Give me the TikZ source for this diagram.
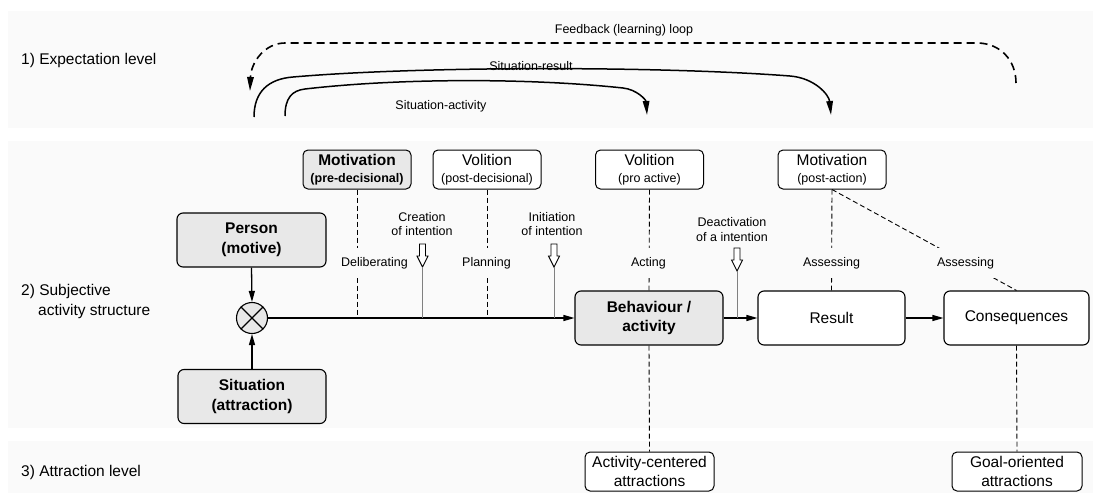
\documentclass[tikz,border=0pt]{standalone}
\usepackage{fontspec}
\setmainfont{Liberation Sans}
\usetikzlibrary{arrows.meta}
\definecolor{bandgray}{HTML}{FAFAFA}
\definecolor{boxgray}{HTML}{E8E8E8}
\definecolor{guide}{HTML}{808080}
\newcommand\fbig{\fontsize{15.5}{19.5}\selectfont}
\newcommand\fsmall{\fontsize{12.5}{14.5}\selectfont}
\newcommand\ftitle{\fontsize{15.5}{16.5}\selectfont}
\newcommand\fsub{\fontsize{12.5}{16.5}\selectfont}

\tikzset{
  band/.style={fill=bandgray, draw=none},
  levellabel/.style={anchor=west, inner sep=0pt, align=left, font=\fbig},
  bigbox/.style={draw, line width=1.1pt, rounded corners=6pt, align=center, inner sep=0pt, minimum height=54pt, font=\fbig},
  greybox/.style={bigbox, fill=boxgray, font=\fbig\bfseries},
  whitebox/.style={bigbox, fill=white},
  phasebox/.style={draw, line width=1pt, rounded corners=5pt, align=center, inner sep=0pt, minimum width=108pt, minimum height=39pt, fill=white, font=\fsub},
  attrbox/.style={draw, line width=1pt, rounded corners=5pt, align=center, inner sep=0pt, minimum height=39pt, fill=white, font=\fbig},
  dline/.style={line width=0.9pt, dash pattern=on 5pt off 3pt},
  phaselabel/.style={fill=bandgray, inner xsep=2pt, inner ysep=9pt, font=\fsmall},
  eventlabel/.style={align=center, inner sep=0pt, font=\fsmall},
  flow/.style={line width=1.3pt, -{Triangle[length=11pt,width=6pt]}},
  guideline/.style={draw=guide, line width=0.8pt},
  loopline/.style={line width=1.5pt, -{Triangle[length=14pt,width=6.5pt]}},
  feedback/.style={line width=1.6pt, dash pattern=on 8pt off 5pt, -{Triangle[length=14pt,width=6.5pt]}},
  curvelabel/.style={inner sep=0pt, font=\fsmall},
  intentarrow/.pic={
    \draw[line width=0.9pt, fill=white] (-3,0) -- (3,0) -- (3,12) -- (5.5,12) -- (0,23) -- (-5.5,12) -- (-3,12) -- cycle;
    \coordinate (-tip) at (0,23);
  },
}

\begin{document}
\begin{tikzpicture}[x=1pt, y=-1pt]
\useasboundingbox (0,0) rectangle (1093,493);
\fill[white] (0,0) rectangle (1093,493);

% the three level bands
\path[band] (8,11) rectangle (1093,128);
\path[band] (8,141) rectangle (1093,428);
\path[band] (8,441) rectangle (1093,493);

\node[levellabel] (lev1) at (21,60) {1) Expectation level};
\node[levellabel] (lev2) at (21,301.5) {2) Subjective\\\hspace*{17pt}activity structure};
\node[levellabel] (lev3) at (21,472) {3) Attraction level};

% expectation level: loops
\coordinate (fbstart) at (1016,83);
\coordinate (fbend) at (250,91);
\draw[feedback] (fbstart) .. controls (1016,60) and (1000,43) .. (977,43) -- (285,43) .. controls (265,43) and (251,62) .. (fbend);
\node[curvelabel] (fblabel) at (624,30) {Feedback (learning) loop};

\coordinate (srstart) at (254,117);
\coordinate (srend) at (831,115);
\draw[loopline] (srstart) .. controls (254,92) and (268,79) .. (293,77) .. controls (420,66) and (660,66) .. (790,76) .. controls (815,78) and (829,95) .. (srend);
\node[curvelabel] (srlabel) at (531,66) {Situation-result};

\coordinate (sastart) at (285,116);
\coordinate (saend) at (647,115);
\draw[loopline] (sastart) .. controls (285,98) and (292,90.5) .. (305,89) .. controls (400,78) and (530,78) .. (623,88) .. controls (637,89.5) and (646,100) .. (saend);
\node[curvelabel] (salabel) at (441,106) {Situation-activity};

% subjective activity structure: main nodes
\node[greybox, minimum width=149pt] (person) at (251.5,240) {Person\\(motive)};
\node[greybox, minimum width=148pt] (situation) at (252,396.5) {Situation\\(attraction)};
\node[circle, draw, line width=1.1pt, fill=boxgray, minimum size=31pt, inner sep=0pt] (mix) at (252,318) {};
\draw[line width=1.1pt] (mix.north west) -- (mix.south east) (mix.north east) -- (mix.south west);

\node[greybox, minimum width=148pt] (act) at (649,318) {Behaviour /\\activity};
\node[whitebox, minimum width=147pt] (res) at (831.5,318) {Result};
\node[whitebox, minimum width=145pt] (cons) at (1016.5,318) {Consequences};

% phases
\node[phasebox, fill=boxgray] (motpre) at (357,169.5) {{\ftitle\bfseries Motivation}\\{\bfseries (pre-decisional)}};
\node[phasebox] (volpost) at (487,169.5) {{\ftitle Volition}\\(post-decisional)};
\node[phasebox] (volpro) at (649.5,169.5) {{\ftitle Volition}\\(pro active)};
\node[phasebox] (motpost) at (832,169.5) {{\ftitle Motivation}\\(post-action)};

% attraction level
\node[attrbox, minimum width=129pt] (actattr) at (649.5,471.5) {Activity-centered\\attractions};
\node[attrbox, minimum width=130pt] (goalattr) at (1017,471.5) {Goal-oriented\\attractions};

% dashed phase lines
\draw[dline] (motpre.south) -- (motpre.south |- mix.center);
\draw[dline] (volpost.south) -- (volpost.south |- mix.center);
\draw[dline] (volpro.south) -- (act.north);
\draw[dline] (motpost.south) -- (res.north);
\draw[dline] (motpost.south) -- (cons.north);
\draw[dline] (act.south) -- (actattr.north);
\draw[dline] (cons.south) -- (goalattr.north);

\node[phaselabel] (delib) at (374.5,263) {Deliberating};
\node[phaselabel] (plan) at (486.5,263) {Planning};
\node[phaselabel] (acting) at (648.5,263) {Acting};
\node[phaselabel] (assess1) at (831.5,263) {Assessing};
\node[phaselabel] (assess2) at (965.5,263) {Assessing};

% main flow
\draw[flow] (person.south) -- (mix.north);
\draw[flow] (situation.north) -- (mix.south);
\draw[flow] (mix.east) -- (act.west);
\draw[flow] (act.east) -- (res.west);
\draw[flow] (res.east) -- (cons.west);

% intention events
\node[eventlabel] (creation) at (422,224) {Creation\\of intention};
\pic (ca) at (422.5,244) {intentarrow};
\draw[guideline] (ca-tip) -- (ca-tip |- mix.center);

\node[eventlabel] (initiation) at (552,224) {Initiation\\of intention};
\pic (ia) at (554,244) {intentarrow};
\draw[guideline] (ia-tip) -- (ia-tip |- mix.center);

\node[eventlabel] (deactivation) at (732,229.5) {Deactivation\\of a intention};
\pic (da) at (737,248) {intentarrow};
\draw[guideline] (da-tip) -- (da-tip |- mix.center);
\end{tikzpicture}
\end{document}
